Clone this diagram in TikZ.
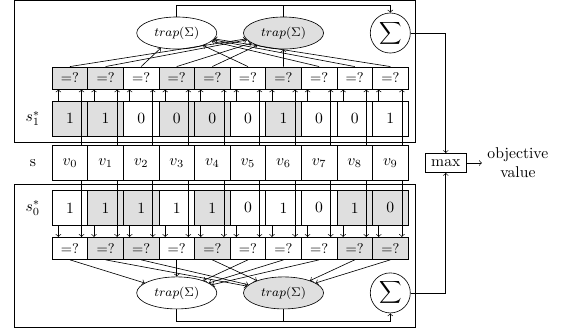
\documentclass[tikz,border=0pt]{standalone}
\usepackage{amsmath,amssymb}
\usetikzlibrary{positioning,shapes,arrows,calc}
\usepackage{xcolor}

\colorlet{grpA}{white}
\colorlet{grpB}{gray!25}

\begin{document}
\begin{tikzpicture}[>=to,
  cell/.style={draw, minimum width=0.8cm, minimum height=0.78cm, inner sep=0pt},
  test/.style={draw, minimum width=0.8cm, minimum height=0.5cm, inner sep=0pt, font=\small},
  trap/.style={ellipse, draw, minimum width=1.8cm, minimum height=0.72cm, inner sep=0pt, font=\footnotesize},
  sigma/.style={circle, draw, minimum size=0.9cm, inner sep=0pt}]
\useasboundingbox (0,0) rectangle (12.79,-7.53);

% the two halves
\draw (0.315,-0.015) rectangle (9.325,-3.19);
\draw (0.315,-4.134) rectangle (9.325,-7.348);

\node[trap] (upA) at (3.973,-0.742) {$trap(\Sigma)$};
\node[trap, fill=grpB] (upB) at (6.373,-0.742) {$trap(\Sigma)$};
\node[sigma] (upsum) at (8.773,-0.742) {$\displaystyle\sum$};
\node[trap] (downA) at (3.973,-6.584) {$trap(\Sigma)$};
\node[trap, fill=grpB] (downB) at (6.373,-6.584) {$trap(\Sigma)$};
\node[sigma] (downsum) at (8.773,-6.584) {$\displaystyle\sum$};

\node (s1lab) at (0.74,-2.663) {$s_1^*$};
\node (vlab) at (0.74,-3.663) {s};
\node (s0lab) at (0.74,-4.674) {$s_0^*$};

% columns: index / s1 bit / s1 group / s0 bit / s0 group
\foreach \i/\a/\b/\c/\d in {0/1/B/1/A, 1/1/B/1/B, 2/0/A/1/B, 3/0/B/1/A, 4/0/B/1/B,
                            5/0/A/0/A, 6/1/B/1/A, 7/0/A/0/A, 8/0/A/1/B, 9/1/A/0/B} {
  \node[test, fill=grp\b] (q1-\i) at (1.573+0.8*\i,-1.753) {=?};
  \node[cell, fill=grp\b] (s1-\i) at (1.573+0.8*\i,-2.663) {\a};
  \node[cell] (v-\i) at (1.573+0.8*\i,-3.663) {$v_{\i}$};
  \node[cell, fill=grp\d] (s0-\i) at (1.573+0.8*\i,-4.674) {\c};
  \node[test, fill=grp\d] (q0-\i) at (1.573+0.8*\i,-5.584) {=?};
  \draw[->] ([xshift=-0.26cm]s1-\i.north) -- ([xshift=-0.26cm]q1-\i.south);
  \draw[->] ([xshift=0.26cm]v-\i.north) -- ([xshift=0.26cm]q1-\i.south);
  \draw[->] ([xshift=-0.26cm]s0-\i.south) -- ([xshift=-0.26cm]q0-\i.north);
  \draw[->] ([xshift=0.26cm]v-\i.south) -- ([xshift=0.26cm]q0-\i.north);
  \draw[->] (q1-\i.north) -- (up\b);
  \draw[->] (q0-\i.south) -- (down\d);
}

% sums
\coordinate (topline) at (0,-0.124);
\coordinate (botline) at (0,-7.213);
\draw[->] (upA.north) |- (topline -| upsum) -- (upsum.north);
\draw (upB.north) -- (upB.north |- topline);
\draw[->] (downA.south) |- (botline -| downsum) -- (downsum.south);
\draw (downB.south) -- (downB.south |- botline);

\node[draw, inner sep=1pt, minimum width=0.94cm, minimum height=0.43cm] (max) at (10.02,-3.663) {max};
\node[align=center] (obj) at (11.64,-3.663) {objective\\value};
\draw[->] (upsum.east) -| (max.north);
\draw[->] (downsum.east) -| (max.south);
\draw[->] (max.east) -- (obj.west);
\end{tikzpicture}
\end{document}
